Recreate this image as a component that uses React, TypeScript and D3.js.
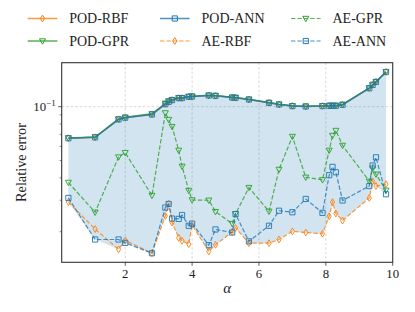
import { area, line, max, min, scaleLinear, scaleLog } from "d3";

const alphas = [
  0.3, 1.1, 1.8, 2.0, 2.8, 3.2, 3.3, 3.4, 3.6, 3.7, 3.9, 4.0, 4.5, 4.7, 5.2,
  5.3, 5.7, 6.3, 6.6, 7.0, 7.4, 7.9, 8.1, 8.2, 8.3, 8.5, 9.3, 9.4, 9.5, 9.8,
];

const podRbf = [
  0.0667, 0.0675, 0.085, 0.0869, 0.0906, 0.1035, 0.1066, 0.1089, 0.1118,
  0.1118, 0.1137, 0.1141, 0.1156, 0.1151, 0.1126, 0.1122, 0.1098, 0.1052,
  0.103, 0.1009, 0.1004, 0.1009, 0.1013, 0.1013, 0.1013, 0.1026, 0.127,
  0.1325, 0.1377, 0.1564,
];
const podGpr = [
  0.0669, 0.0677, 0.0853, 0.0872, 0.0912, 0.1045, 0.1078, 0.1095, 0.1121,
  0.1121, 0.1139, 0.1143, 0.1158, 0.1153, 0.1128, 0.1124, 0.11, 0.1054,
  0.1032, 0.1011, 0.1006, 0.1011, 0.1015, 0.1015, 0.1015, 0.1028, 0.1274,
  0.1329, 0.138, 0.1567,
];
const podAnn = [
  0.0666, 0.0674, 0.0849, 0.0868, 0.0905, 0.1033, 0.1064, 0.1088, 0.1117,
  0.1117, 0.1136, 0.114, 0.1155, 0.115, 0.1125, 0.1121, 0.1097, 0.1051,
  0.1029, 0.1008, 0.1003, 0.1008, 0.1012, 0.1012, 0.1012, 0.1025, 0.1268,
  0.1323, 0.1375, 0.1562,
];
const aeRbf = [
  0.0293, 0.0207, 0.01595, 0.0179, 0.01517, 0.0245, 0.0287, 0.0225, 0.0185,
  0.0178, 0.01706, 0.0218, 0.01552, 0.0169, 0.01995, 0.021, 0.01726, 0.01726,
  0.0181, 0.0201, 0.0198, 0.0195, 0.0244, 0.0293, 0.0253, 0.0231, 0.0309,
  0.0383, 0.036, 0.0369,
];
const aeGpr = [
  0.0377, 0.0257, 0.0523, 0.0553, 0.0319, 0.0923, 0.0847, 0.0774, 0.057,
  0.0464, 0.034, 0.0301, 0.03, 0.0259, 0.0222, 0.0252, 0.0353, 0.026, 0.0446,
  0.0681, 0.0403, 0.039, 0.057, 0.069, 0.0736, 0.0607, 0.0383, 0.0453, 0.0419,
  0.0341,
];
const aeAnn = [
  0.0309, 0.0181, 0.0181, 0.01733, 0.01517, 0.0273, 0.0286, 0.0237, 0.0236,
  0.0248, 0.0216, 0.0222, 0.01683, 0.0206, 0.0198, 0.0251, 0.01768, 0.0216,
  0.0262, 0.0257, 0.0305, 0.0255, 0.0414, 0.0461, 0.043, 0.0299, 0.036,
  0.0469, 0.0521, 0.0324,
];

const xTicks = [2, 4, 6, 8, 10];
const yMinorTicks = [0.02, 0.03, 0.04, 0.05, 0.06, 0.07, 0.08, 0.09];
const yMajorTicks = [0.1];

type Marker = "d" | "v" | "s";

interface Series {
  name: string;
  values: number[];
  color: string;
  dashed: boolean;
  marker: Marker;
}

const series: Series[] = [
  { name: "POD-RBF", values: podRbf, color: "#ff7f0e", dashed: false, marker: "d" },
  { name: "POD-GPR", values: podGpr, color: "#2ca02c", dashed: false, marker: "v" },
  { name: "POD-ANN", values: podAnn, color: "#1f77b4", dashed: false, marker: "s" },
  { name: "AE-RBF", values: aeRbf, color: "#ff7f0e", dashed: true, marker: "d" },
  { name: "AE-GPR", values: aeGpr, color: "#2ca02c", dashed: true, marker: "v" },
  { name: "AE-ANN", values: aeAnn, color: "#1f77b4", dashed: true, marker: "s" },
];

const FONT = "Liberation Serif";

function markerPath(kind: Marker) {
  if (kind === "d") return "M0,-3.4L2.1,0L0,3.4L-2.1,0Z";
  if (kind === "v") return "M-3,-2.2L3,-2.2L0,3.2Z";
  return "M-2.6,-2.6L2.6,-2.6L2.6,2.6L-2.6,2.6Z";
}

function Legend() {
  // ncol=3, filled column by column like matplotlib
  const colX = [27.7, 160, 291];
  const rowY = [18.5, 41];
  return (
    <g>
      {series.map((s, i) => {
        const x0 = colX[Math.floor(i / 2)];
        const y0 = rowY[i % 2];
        return (
          <g key={`leg-${s.name}`}>
            <line
              x1={x0}
              x2={x0 + 29.6}
              y1={y0}
              y2={y0}
              stroke={s.color}
              strokeOpacity={0.8}
              strokeWidth={s.dashed ? 1.2 : 1.5}
              strokeDasharray={s.dashed ? "4.4,2" : undefined}
            />
            <path
              d={markerPath(s.marker)}
              transform={`translate(${x0 + 14.8},${y0})`}
              fill="none"
              stroke={s.color}
              strokeWidth={1}
            />
            <text
              x={x0 + 41.5}
              y={y0 + 4.8}
              fontFamily={FONT}
              fontSize={14}
              fill="#222"
            >
              {s.name}
            </text>
          </g>
        );
      })}
    </g>
  );
}

export default function App() {
  const W = 415;
  const H = 312;
  const margin = { top: 62.7, right: 22.3, bottom: 49.7, left: 61.7 };
  const width = W - margin.left - margin.right;
  const height = H - margin.top - margin.bottom;

  const all = series.flatMap((s) => s.values);
  const lo = Math.log10(min(all) as number);
  const hi = Math.log10(max(all) as number);
  const pad = (hi - lo) * 0.05;

  const x = scaleLinear().domain([0.1, 10]).range([0, width]);
  const y = scaleLog()
    .domain([Math.pow(10, lo - pad), Math.pow(10, hi + pad)])
    .range([height, 0]);

  const band = area<number>()
    .x((_, i) => x(alphas[i]))
    .y0((_, i) => y(min(series, (s) => s.values[i]) as number))
    .y1((_, i) => y(max(series, (s) => s.values[i]) as number));

  const path = line<number>()
    .x((_, i) => x(alphas[i]))
    .y((v) => y(v));

  return (
    <svg
      width={W}
      height={H}
      style={{ position: "absolute", left: 0, top: 0, background: "#fff" }}
    >
      <Legend />
      <g transform={`translate(${margin.left},${margin.top})`}>
        {/* grid */}
        {xTicks
          .filter((t) => t < 10)
          .map((t) => (
            <line
              key={`gx-${t}`}
              x1={x(t)}
              x2={x(t)}
              y1={0}
              y2={height}
              stroke="#b0b0b0"
              strokeWidth={0.7}
              strokeDasharray="2.5,2"
              strokeOpacity={0.7}
            />
          ))}
        {yMajorTicks.map((t) => (
          <line
            key={`gy-${t}`}
            x1={0}
            x2={width}
            y1={y(t)}
            y2={y(t)}
            stroke="#b0b0b0"
            strokeWidth={0.7}
            strokeDasharray="2.5,2"
            strokeOpacity={0.7}
          />
        ))}

        <path d={band(alphas) ?? ""} fill="#1f77b4" fillOpacity={0.2} />

        {series.map((s) => (
          <g key={`s-${s.name}`}>
            <path
              d={path(s.values) ?? ""}
              fill="none"
              stroke={s.color}
              strokeOpacity={0.8}
              strokeWidth={s.dashed ? 1.2 : 1.5}
              strokeDasharray={s.dashed ? "4.4,2" : undefined}
            />
            {s.values.map((v, i) => (
              <path
                key={`m-${s.name}-${i}`}
                d={markerPath(s.marker)}
                transform={`translate(${x(alphas[i])},${y(v)})`}
                fill="none"
                stroke={s.color}
                strokeOpacity={0.9}
                strokeWidth={1}
              />
            ))}
          </g>
        ))}

        {/* spines */}
        <rect
          x={0}
          y={0}
          width={width}
          height={height}
          fill="none"
          stroke="#333"
          strokeWidth={1.1}
        />

        {/* x ticks */}
        {xTicks.map((t) => (
          <g key={`xt-${t}`} transform={`translate(${x(t)},${height})`}>
            <line y1={0} y2={3.5} stroke="#333" strokeWidth={0.8} />
            <text
              y={15.4}
              textAnchor="middle"
              fontFamily={FONT}
              fontSize={12.8}
              fill="#222"
            >
              {t}
            </text>
          </g>
        ))}

        {/* y ticks */}
        {yMinorTicks.map((t) => (
          <line
            key={`ymt-${t}`}
            x1={-2}
            x2={0}
            y1={y(t)}
            y2={y(t)}
            stroke="#333"
            strokeWidth={0.6}
          />
        ))}
        {yMajorTicks.map((t) => (
          <g key={`yt-${t}`} transform={`translate(0,${y(t)})`}>
            <line x1={-3.5} x2={0} stroke="#333" strokeWidth={0.8} />
            <text
              x={-6}
              y={4.6}
              textAnchor="end"
              fontFamily={FONT}
              fontSize={12.8}
              fill="#222"
            >
              10
              <tspan dy={-5.5} fontSize={9}>
                −1
              </tspan>
            </text>
          </g>
        ))}

        {/* axis labels */}
        <text
          x={width / 2}
          y={height + 30.5}
          textAnchor="middle"
          fontFamily={FONT}
          fontStyle="italic"
          fontSize={15}
          fill="#222"
        >
          α
        </text>
        <text
          transform={`translate(${-35.5},${height / 2}) rotate(-90)`}
          textAnchor="middle"
          fontFamily={FONT}
          fontSize={14.3}
          fill="#222"
        >
          Relative error
        </text>
      </g>
    </svg>
  );
}
